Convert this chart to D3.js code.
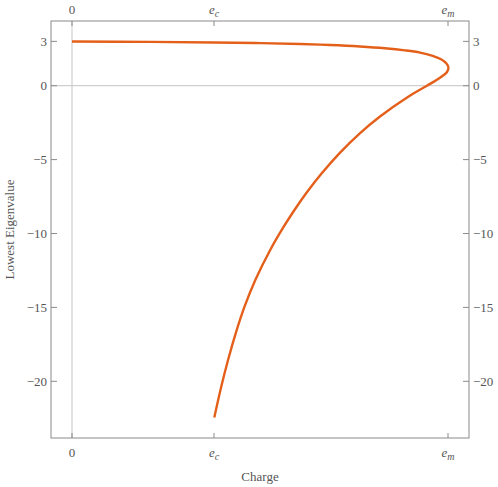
<!DOCTYPE html>
<html><head><meta charset="utf-8">
<script src="https://cdn.jsdelivr.net/npm/d3@7"></script>
<style>
body{margin:0;background:#fff;}
text{font-family:"Liberation Serif","DejaVu Serif",serif;fill:#555;}
</style></head>
<body>
<svg id="c" width="498" height="487"></svg>
<script>
// Charge in units of e_c
const EC = 1.0;
const EM = 2.648;
const xTickValues = [0, EC, EM];
const xTickLabels = [["0",""],["e","c"],["e","m"]];
const yTickValues = [3, 0, -5, -10, -15, -20];
const chargeValues = [0, 0.549, 1.0, 1.324, 1.606, 1.817, 2.028, 2.204, 2.345, 2.451, 2.535, 2.599, 2.637, 2.651, 2.641, 2.592, 2.500,
  2.368, 2.167, 2.027, 1.883, 1.759, 1.649, 1.562, 1.490, 1.396, 1.291, 1.215, 1.153, 1.099, 1.051, 1.002];
const eigenValues  = [2.99, 2.963, 2.923, 2.883, 2.822, 2.754, 2.653, 2.531, 2.389, 2.240, 2.037, 1.786, 1.502, 1.231, 0.93, 0.54, 0,
  -0.744, -2.097, -3.221, -4.574, -5.927, -7.280, -8.478, -9.560, -11.116, -13.146, -14.953, -16.752, -18.559, -20.365, -22.449];

const svg = d3.select("#c");
const L = 51, R = 469, T = 21, B = 438;
const x = d3.scaleLinear().domain([0, EM]).range([72, 448]);
const y = d3.scaleLinear().domain([0, -20]).range([85.7, 381.3]);

// gridlines (axes through origin)
svg.append("line").attr("x1", x(0)).attr("x2", x(0)).attr("y1", T).attr("y2", B)
  .attr("stroke", "#cfcfcf").attr("stroke-width", 1.2);
svg.append("line").attr("x1", L).attr("x2", R).attr("y1", y(0)).attr("y2", y(0))
  .attr("stroke", "#cfcfcf").attr("stroke-width", 1.2);

// frame
svg.append("rect").attr("x", L).attr("y", T).attr("width", R - L).attr("height", B - T)
  .attr("fill", "none").attr("stroke", "#8a8a8a").attr("stroke-width", 1);

// ticks
const tk = svg.append("g").attr("stroke", "#8a8a8a").attr("stroke-width", 1);
xTickValues.forEach(v => {
  tk.append("line").attr("x1", x(v)).attr("x2", x(v)).attr("y1", B).attr("y2", B - 5);
  tk.append("line").attr("x1", x(v)).attr("x2", x(v)).attr("y1", T).attr("y2", T + 5);
});
yTickValues.forEach(v => {
  tk.append("line").attr("y1", y(v)).attr("y2", y(v)).attr("x1", L).attr("x2", L + 6);
  tk.append("line").attr("y1", y(v)).attr("y2", y(v)).attr("x1", R).attr("x2", R - 6);
});

// x tick labels
function xLabel(v, lab, yy) {
  const t = svg.append("text").attr("x", x(v)).attr("y", yy).attr("text-anchor", "middle")
    .attr("font-size", 13);
  if (lab[1] === "") { t.text(lab[0]); }
  else {
    t.append("tspan").attr("font-style", "italic").text(lab[0]);
    t.append("tspan").attr("font-style", "italic").attr("font-size", 10).attr("dy", 3).text(lab[1]);
  }
}
xTickValues.forEach((v, i) => { xLabel(v, xTickLabels[i], 457); xLabel(v, xTickLabels[i], 14); });

// y tick labels
const fmt = v => v < 0 ? "\u2212" + Math.abs(v) : String(v);
yTickValues.forEach(v => {
  svg.append("text").attr("x", L - 4).attr("y", y(v) + 4.5).attr("text-anchor", "end")
    .attr("font-size", 13).text(fmt(v));
  svg.append("text").attr("x", R + 4).attr("y", y(v) + 4.5).attr("text-anchor", "start")
    .attr("font-size", 13).text(fmt(v));
});

// axis titles
svg.append("text").attr("x", (L + R) / 2).attr("y", 481).attr("text-anchor", "middle")
  .attr("font-size", 13).text("Charge");
svg.append("text").attr("transform", `translate(14,${(T + B) / 2}) rotate(-90)`)
  .attr("text-anchor", "middle").attr("font-size", 13).text("Lowest Eigenvalue");

// curve
const pts = chargeValues.map((c, i) => [c, eigenValues[i]]);
const line = d3.line().x(d => x(d[0])).y(d => y(d[1])).curve(d3.curveCatmullRom.alpha(0.5));
svg.append("path").datum(pts).attr("d", line).attr("fill", "none")
  .attr("stroke", "#e4601a").attr("stroke-width", 2.4).attr("stroke-linejoin", "round");
</script>
</body></html>
